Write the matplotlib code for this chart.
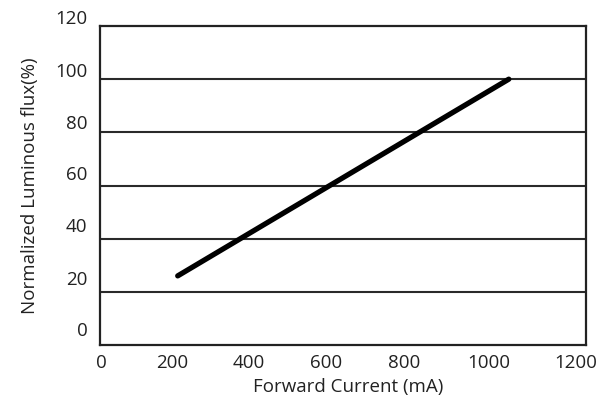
import matplotlib
matplotlib.use("Agg")
import matplotlib.pyplot as plt
from matplotlib.transforms import ScaledTranslation

# Data
current_ma = [192, 1010]
flux_pct = [26, 100]
xticks = [0, 200, 400, 600, 800, 1000, 1200]
yticks = [0, 20, 40, 60, 80, 100, 120]
xlabel = "Forward Current (mA)"
ylabel = "Normalized Luminous flux(%)"

# style: pixel nudges of tick labels, as in the reference artwork
x_label_nudge_px = [1.5, -9, -13, -17, -20, -16, -9.5]
y_label_nudge_px = [16, 13.7, 13.7, 12, 10, 9, 8.5]

plt.rcParams['font.family'] = ['Open Sans', 'DejaVu Sans']
FS = 13.5

fig = plt.figure(figsize=(6.11, 4.01), dpi=100)
ax = fig.add_axes([100/611, 1-345/401, 485.7/611, 319/401])

ax.plot(current_ma, flux_pct, color='black', lw=3.8, solid_capstyle='round')

ax.set_xlim(0, 1200)
ax.set_ylim(0, 120)
ax.set_xticks(xticks)
ax.set_yticks(yticks)
ax.set_xticklabels([str(v) for v in xticks])
ax.set_yticklabels([str(v) for v in yticks])
ax.tick_params(length=0, labelsize=FS, colors='#222222')
ax.tick_params(axis='y', pad=9)
ax.tick_params(axis='x', pad=6.5)

for y in yticks[1:-1]:
    ax.axhline(y, color='#2a2a2a', lw=1.5, zorder=1)

for s in ax.spines.values():
    s.set_color('#222222')
    s.set_linewidth(1.6)

ax.set_xlabel(xlabel, fontsize=FS, color='#222222', labelpad=2.5)
ax.set_ylabel(ylabel, fontsize=FS, color='#222222', labelpad=12)
ax.xaxis.set_label_coords(0.51, -0.105)

for lbl, dx in zip(ax.get_xticklabels(), x_label_nudge_px):
    lbl.set_transform(lbl.get_transform() + ScaledTranslation(dx/100, 0, fig.dpi_scale_trans))
for lbl, dy in zip(ax.get_yticklabels(), y_label_nudge_px):
    lbl.set_transform(lbl.get_transform() + ScaledTranslation(0, dy/100, fig.dpi_scale_trans))

fig.savefig("out.png", dpi=100)
